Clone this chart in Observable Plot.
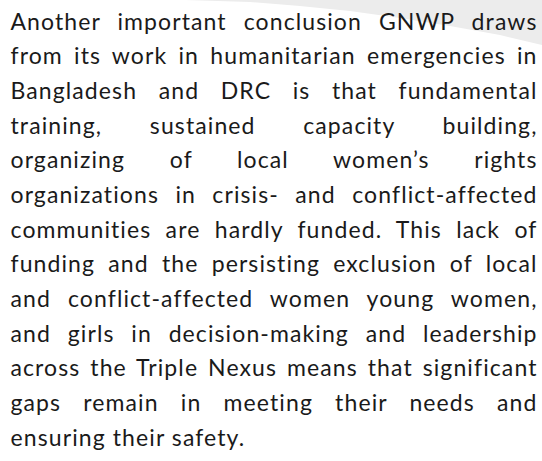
<!DOCTYPE html>
<html>
<head>
<meta charset="utf-8">
<script src="https://cdn.jsdelivr.net/npm/d3@7"></script>
<script src="https://cdn.jsdelivr.net/npm/@observablehq/plot@0.6"></script>
<style>
  html, body { margin: 0; padding: 0; background: #ffffff; }
  #wrap { position: relative; width: 542px; height: 461px; overflow: hidden; }
  #swoosh {
    position: absolute; left: 0; top: 0; width: 542px; height: 60px;
    background: #ececec;
    clip-path: polygon(185px 0px, 542px 0px, 542px 45px, 500px 35px, 450px 26px, 400px 18px, 350px 11px, 300px 6px, 250px 2px);
  }
  #chart { position: absolute; left: 0; top: 0; }
</style>
</head>
<body>
<div id="wrap"><div id="swoosh"></div><div id="chart"></div></div>
<script>
const lines = [
  "Another important conclusion GNWP draws",
  "from its work in humanitarian emergencies in",
  "Bangladesh and DRC is that fundamental",
  "training, sustained capacity building,",
  "organizing of local women’s rights",
  "organizations in crisis- and conflict-affected",
  "communities are hardly funded. This lack of",
  "funding and the persisting exclusion of local",
  "and conflict-affected women young women,",
  "and girls in decision-making and leadership",
  "across the Triple Nexus means that significant",
  "gaps remain in meeting their needs and",
  "ensuring their safety."
];
const lineIndex = lines.map((_, i) => i);

const fontSize = 23;
const left = 10, right = 537;
const firstBaseline = 29, lastBaseline = 445;
const mid = 0.32 * fontSize;

const svg = Plot.plot({
  width: 542,
  height: 461,
  margin: 0,
  style: { background: "transparent", fontFamily: "Lato, 'Open Sans', sans-serif" },
  x: { domain: [0, 1], range: [left, right], axis: null },
  y: { domain: [0, lines.length - 1], range: [firstBaseline - mid, lastBaseline - mid], axis: null },
  marks: [
    Plot.text(lineIndex, {
      x: () => 0,
      y: d => d,
      text: d => lines[d],
      textAnchor: "start",
      lineAnchor: "middle",
      fontSize: fontSize,
      fill: "#1a1a1a"
    })
  ]
});
svg.style.letterSpacing = "1.1px";
document.getElementById("chart").appendChild(svg);

function justify() {
  const texts = svg.querySelectorAll("text");
  const target = right - left;
  texts.forEach((t, i) => {
    if (i === texts.length - 1) return;
    const s = t.textContent;
    const spaces = (s.match(/ /g) || []).length;
    if (!spaces) return;
    t.style.wordSpacing = "0px";
    const len = t.getComputedTextLength();
    t.style.wordSpacing = ((target - len) / spaces) + "px";
  });
}
justify();
if (document.fonts && document.fonts.ready) document.fonts.ready.then(justify);
</script>
</body>
</html>
